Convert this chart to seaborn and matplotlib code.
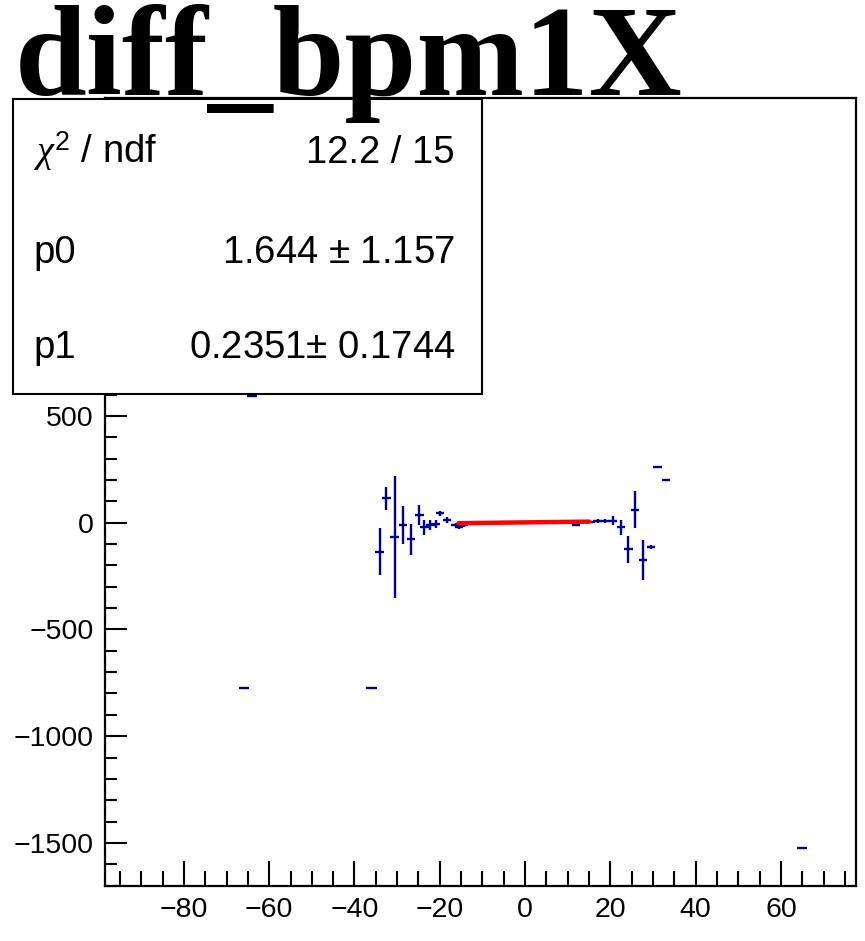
import numpy as np
import pandas as pd
import matplotlib
matplotlib.use("Agg")
import matplotlib.pyplot as plt
from matplotlib.ticker import MultipleLocator
import seaborn as sns

# ---- data ----
x_vals = [-34.1, -32.5, -30.6, -28.6, -26.8, -24.8, -23.6, -22.2, -21.0, -20.0,
          -18.3, -16.3, -15.5, -14.3,
          11.9, 15.3, 17.0, 18.8, 20.6, 22.5, 24.2, 25.8, 27.6, 29.5, 31.1, 33.0,
          -64.0, -65.9, -36.0, 64.9]
y_vals = [-136, 114, -68, -10, -77, 36, -22, -10, -5, 44,
          13, -11, -19, -11,
          -10, 5, 8, 8, 10, -22, -125, 62, -175, -112, 263, 200,
          594, -776, -775, -1526]
y_errs = [110, 55, 286, 90, 73, 48, 35, 23, 20, 12,
          15, 10, 10, 10,
          3, 5, 8, 8, 22, 35, 62, 86, 94, 10, 2, 2,
          2, 2, 2, 2]
x_errs = [1.0] * 26 + [1.2, 1.2, 1.2, 1.2]

fit_x = [-15.6, 15.0]
fit_y = [-2.0, 5.2]

title_text = "diff_bpm1X"
stat_labels = [r"$\chi^2$ / ndf", "p0", "p1"]
stat_values = ["12.2 / 15", "1.644 $\\pm$ 1.157", "0.2351$\\pm$ 0.1744"]

x_ticks = [-80, -60, -40, -20, 0, 20, 40, 60]
y_ticks = [-1500, -1000, -500, 0, 500, 1000, 1500]

# ---- styling ----
sns.set_style("ticks")
plt.rcParams["font.family"] = ["Liberation Sans", "DejaVu Sans"]
plt.rcParams["mathtext.fontset"] = "custom"
plt.rcParams["mathtext.rm"] = "Liberation Sans"
plt.rcParams["mathtext.it"] = "Liberation Serif:italic"
plt.rcParams["text.color"] = "black"
plt.rcParams["xtick.color"] = "black"
plt.rcParams["ytick.color"] = "black"
plt.rcParams["xtick.labelcolor"] = "black"
plt.rcParams["ytick.labelcolor"] = "black"

W, H = 865, 941
fig = plt.figure(figsize=(W / 100, H / 100), dpi=100)
fig.patch.set_facecolor("white")

ax = fig.add_axes([105 / W, 1 - 886 / H, (856 - 105) / W, (886 - 98) / H])
ax.set_facecolor("white")

df = pd.DataFrame({"x": x_vals, "y": y_vals, "ey": y_errs, "ex": x_errs})
ax.errorbar(df["x"], df["y"], xerr=df["ex"], yerr=df["ey"], fmt="none",
            ecolor="#000099", elinewidth=1.7, capsize=0, zorder=2)

fit_df = pd.DataFrame({"x": fit_x, "y": fit_y})
sns.lineplot(data=fit_df, x="x", y="y", ax=ax, color="red", linewidth=3.2,
             zorder=3, legend=False)

ax.set_xlim(-98.5, 77.6)
ax.set_ylim(-1702, 1990)
ax.set_xticks(x_ticks)
ax.set_yticks(y_ticks)
ax.set_xticklabels([f"{t}".replace("-", "\u2212") for t in x_ticks])
ax.set_yticklabels([f"{t}".replace("-", "\u2212") for t in y_ticks])
ax.xaxis.set_minor_locator(MultipleLocator(5))
ax.yaxis.set_minor_locator(MultipleLocator(100))
ax.set_xlabel("")
ax.set_ylabel("")

ax.tick_params(axis="both", which="both", direction="in", top=False, right=False,
               width=1.5, colors="black", labelsize=20.5)
ax.tick_params(axis="x", which="major", length=18, pad=8)
ax.tick_params(axis="x", which="minor", length=11)
ax.tick_params(axis="y", which="major", length=16, pad=8)
ax.tick_params(axis="y", which="minor", length=8.5)
for s in ax.spines.values():
    s.set_visible(True)
    s.set_linewidth(1.6)
    s.set_color("black")

# ---- stats box ----
bx0, by0, bx1, by1 = 12.7, 99.3, 482.3, 394.3
box = fig.add_axes([bx0 / W, 1 - by1 / H, (bx1 - bx0) / W, (by1 - by0) / H])
box.set_facecolor("white")
box.set_xticks([])
box.set_yticks([])
for s in box.spines.values():
    s.set_linewidth(1.5)
    s.set_color("black")
box.set_xlim(bx0, bx1)
box.set_ylim(by1, by0)
baselines = [162.7, 262.7, 358.3]
for lab, val, yb in zip(stat_labels, stat_values, baselines):
    box.text(33, yb, lab, fontsize=27.5, ha="left", va="baseline", color="black")
    box.text(455, yb, val, fontsize=27.5, ha="right", va="baseline", color="black")

# ---- title ----
fig.text(15 / W, 1 - 95 / H, title_text, fontsize=93, color="black",
         family=["Liberation Serif", "DejaVu Serif"], fontweight="bold",
         ha="left", va="baseline", zorder=10)

fig.savefig("out.png", dpi=100)
